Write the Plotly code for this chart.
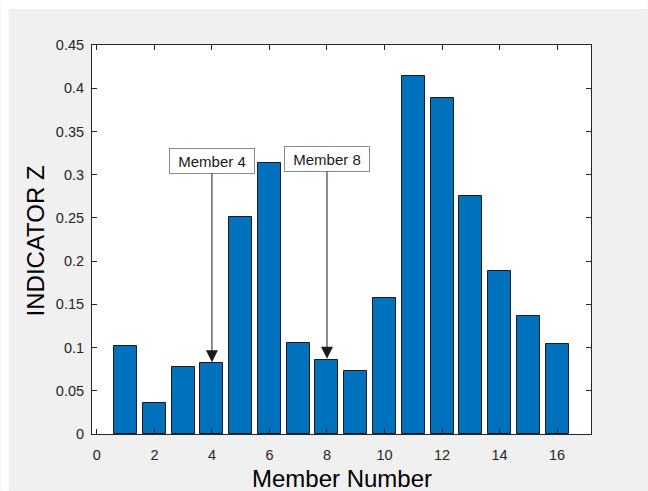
import plotly.graph_objects as go

# Indicator Z for each structural member
members = list(range(1, 17))
indicator_z = [0.102, 0.036, 0.078, 0.082, 0.251, 0.313, 0.105, 0.086,
               0.073, 0.157, 0.414, 0.389, 0.275, 0.188, 0.136, 0.104]

x_ticks = [0, 2, 4, 6, 8, 10, 12, 14, 16]
y_ticks = [0, 0.05, 0.1, 0.15, 0.2, 0.25, 0.3, 0.35, 0.4, 0.45]
y_tick_text = ["0", "0.05", "0.1", "0.15", "0.2", "0.25", "0.3", "0.35", "0.4", "0.45"]

# callouts: label, member index, height of the label box
callouts = [("Member 4", 4, 0.316), ("Member 8", 8, 0.318)]

W, H = 648, 491
L, R, T, B = 91.5, 56.7, 45, 56.7
PW, PH = W - L - R, H - T - B

FONT = "Arial, Liberation Sans, Helvetica, sans-serif"
AX = "#262626"


def px_x(px):
    return (px - L) / PW


def px_y(py):
    return (H - B - py) / PH


fig = go.Figure()
fig.add_trace(go.Bar(
    x=members, y=indicator_z, width=0.8,
    marker=dict(color="#0072BD", line=dict(color="#1a1a1a", width=1)),
    showlegend=False,
))

axis_common = dict(
    showline=True, linecolor=AX, linewidth=1, mirror="ticks",
    ticks="inside", ticklen=5, tickwidth=1, tickcolor=AX,
    showgrid=False, zeroline=False,
    tickfont=dict(family=FONT, size=14.5, color=AX),
)

fig.update_xaxes(range=[-0.17, 17.18], tickvals=x_ticks, ticklabelstandoff=8, **axis_common)
fig.update_yaxes(range=[0, 0.45], tickvals=y_ticks, ticktext=y_tick_text,
                 ticklabelstandoff=4, **axis_common)

annotations = []
for label, m, top in callouts:
    annotations.append(dict(
        x=m, y=indicator_z[m - 1] + 0.001, xref="x", yref="y",
        ax=m, ay=top, axref="x", ayref="y",
        text=label, showarrow=True,
        arrowhead=2, arrowsize=2.4, arrowwidth=1, arrowcolor="#1a1a1a",
        font=dict(family=FONT, size=15, color="#1a1a1a"),
        bgcolor="white", bordercolor="#8a8a8a", borderwidth=1,
        borderpad=3, width=78, height=18,
    ))

# axis titles
annotations.append(dict(
    text="Member Number", xref="paper", yref="paper",
    x=0.5, y=px_y(479), xanchor="center", yanchor="middle",
    showarrow=False, font=dict(family=FONT, size=24, color="black"),
))
annotations.append(dict(
    text="INDICATOR Z", xref="paper", yref="paper",
    x=px_x(35), y=px_y(241), xanchor="center", yanchor="middle",
    textangle=-90, showarrow=False, font=dict(family=FONT, size=24, color="black"),
))

# white margin along the top and left edges of the figure window
shapes = [
    dict(type="rect", xref="paper", yref="paper", layer="below",
         x0=px_x(0), x1=px_x(W), y0=px_y(9), y1=px_y(0),
         fillcolor="white", line=dict(width=0)),
    dict(type="rect", xref="paper", yref="paper", layer="below",
         x0=px_x(0), x1=px_x(8), y0=px_y(H), y1=px_y(0),
         fillcolor="white", line=dict(width=0)),
]

fig.update_layout(
    width=W, height=H,
    margin=dict(l=L, r=R, t=T, b=B, pad=0),
    paper_bgcolor="#f0f0f0", plot_bgcolor="white",
    annotations=annotations, shapes=shapes,
    bargap=0,
)

fig.write_html("out.html")
